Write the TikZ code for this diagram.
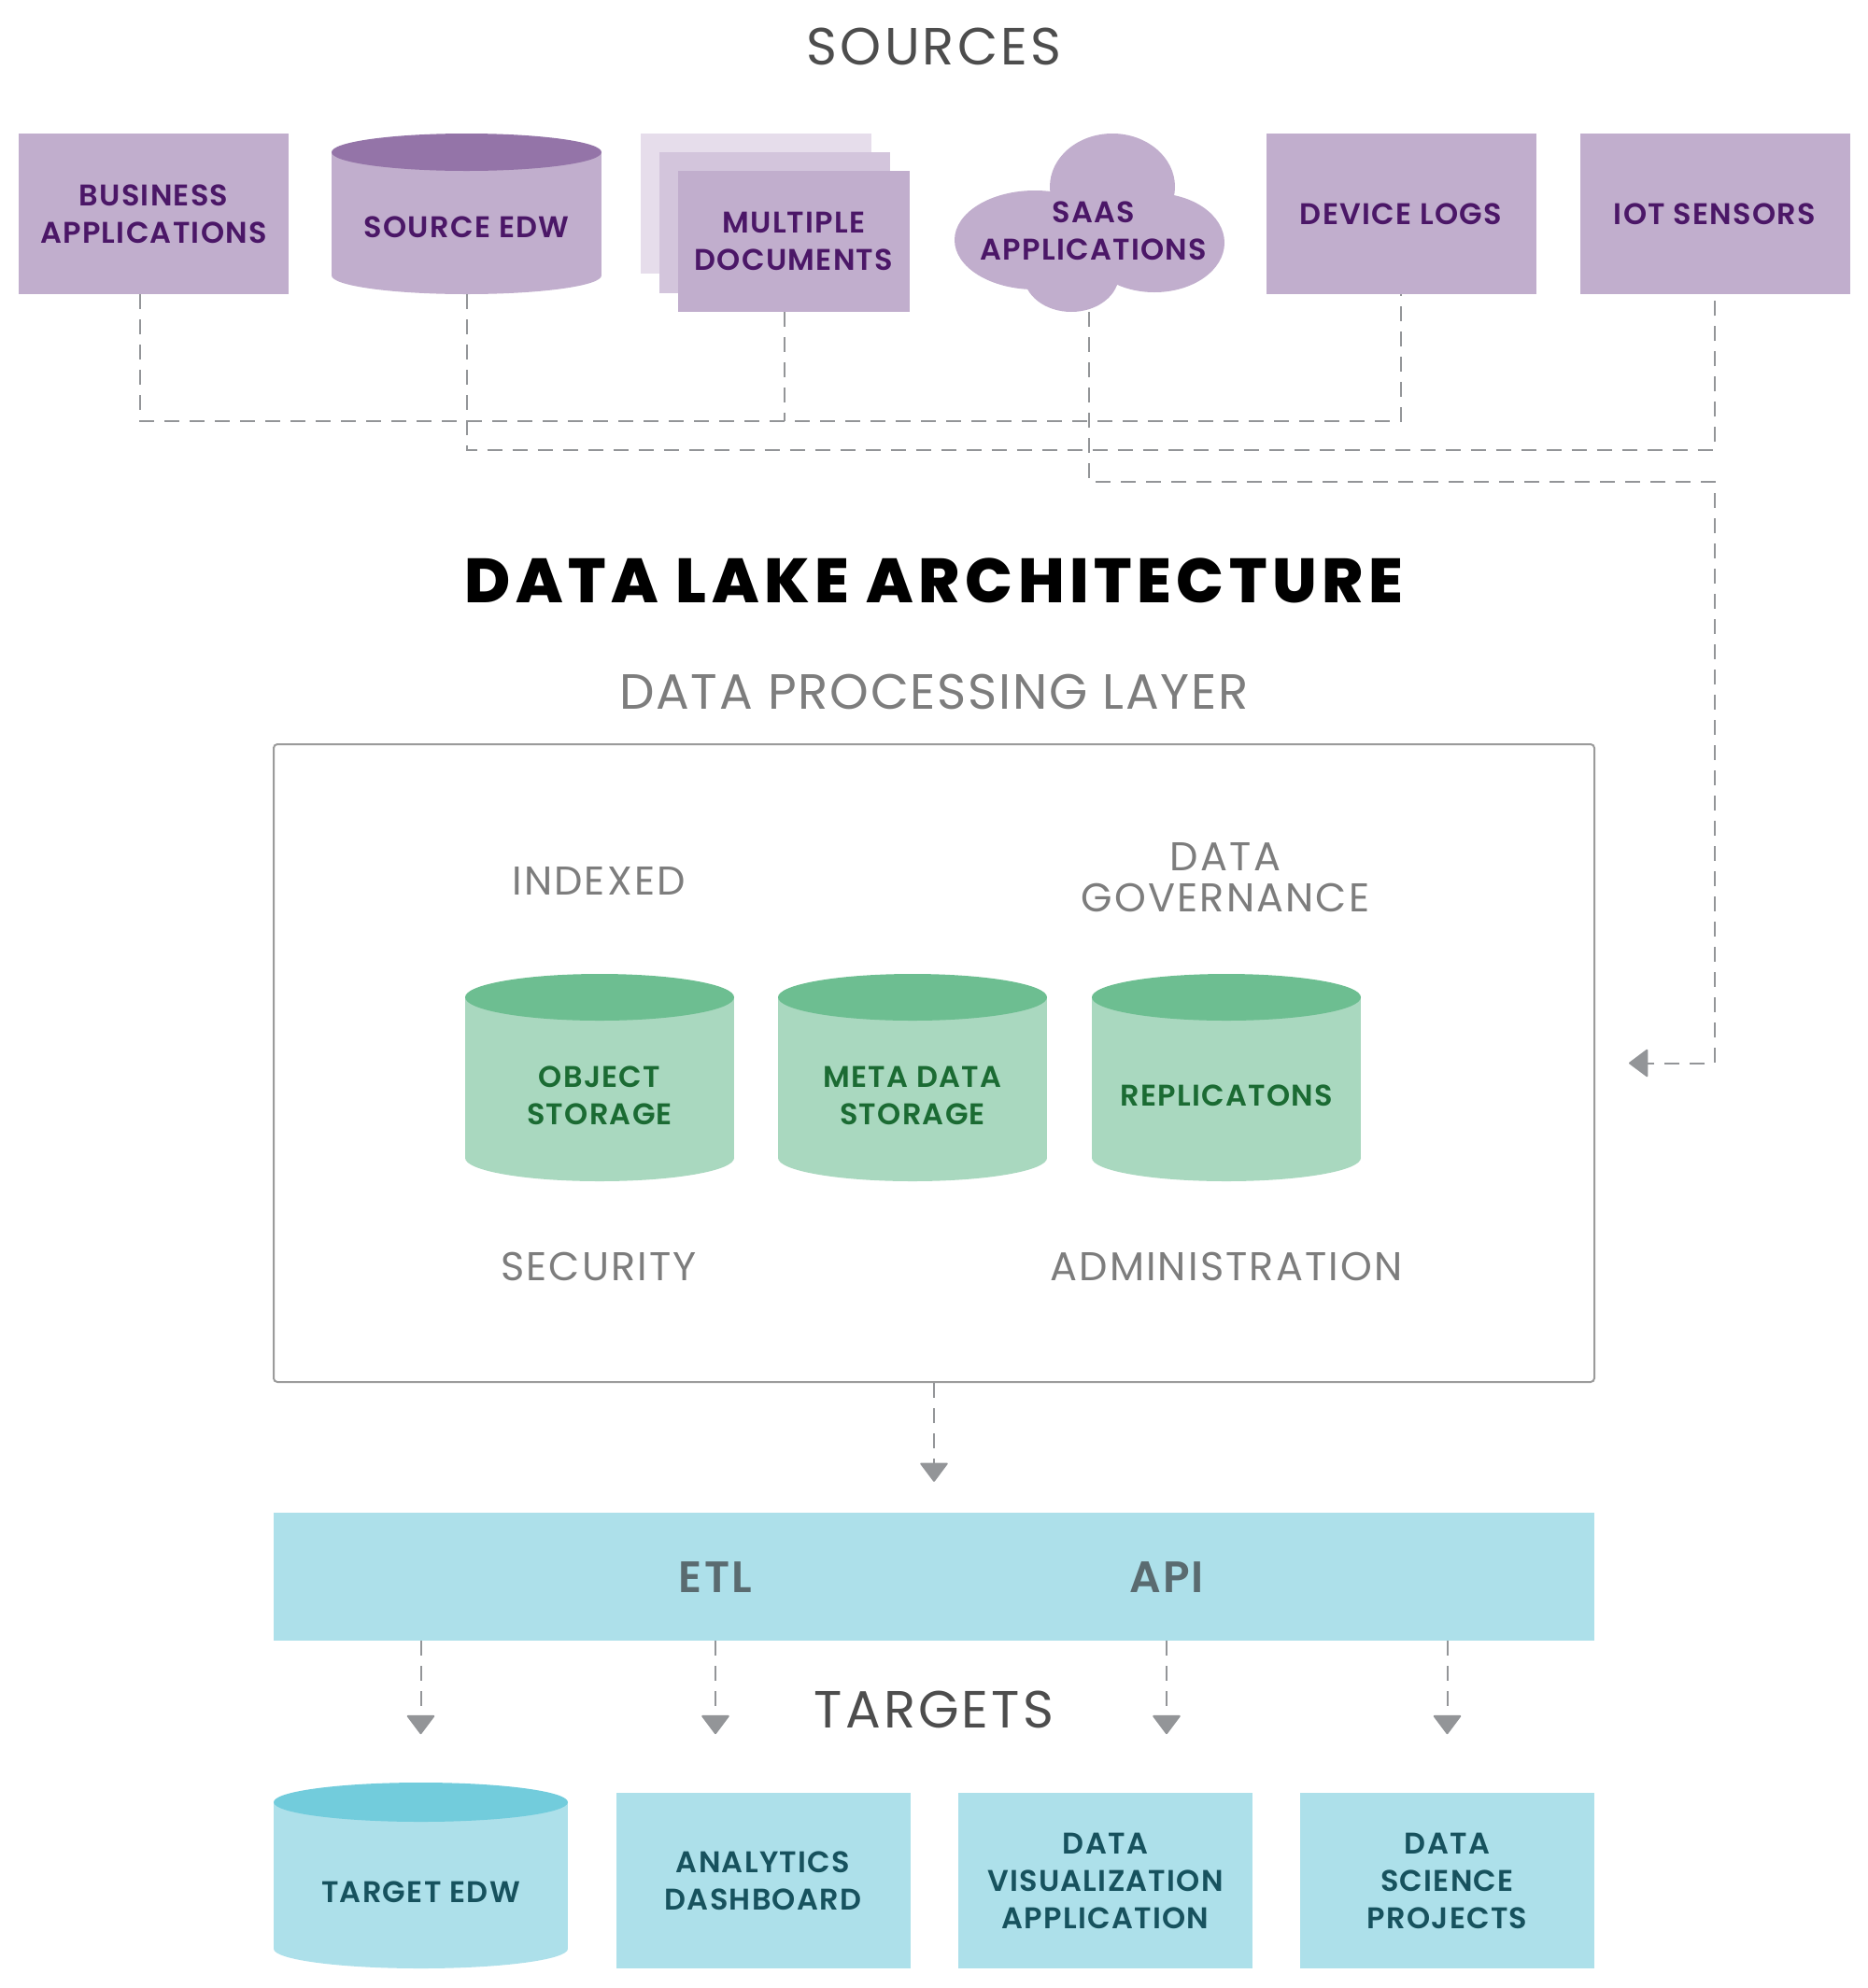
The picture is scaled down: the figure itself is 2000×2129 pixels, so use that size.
\documentclass[tikz,border=0pt]{standalone}
\usepackage{fontspec}
\setmainfont{Poppins}[BoldFont={Poppins SemiBold}]
\newfontfamily\titlefont{Poppins}[UprightFont={Poppins ExtraBold}]
\usetikzlibrary{arrows.meta}
\definecolor{pfill}{HTML}{C1AECD}
\definecolor{ptop}{HTML}{9474A8}
\definecolor{pback}{HTML}{E6DDEB}
\definecolor{pmid}{HTML}{D3C5DC}
\definecolor{ptext}{HTML}{4B1767}
\definecolor{gtop}{HTML}{6DBE91}
\definecolor{gfill}{HTML}{A9D8BF}
\definecolor{gtext}{HTML}{1B6B33}
\definecolor{bfill}{HTML}{ADE0EA}
\definecolor{btop}{HTML}{72CCDC}
\definecolor{btext}{HTML}{17525E}
\definecolor{lgray}{HTML}{939598}
\definecolor{boxgray}{HTML}{9B9B9B}
\definecolor{dgray}{HTML}{4D4D4D}
\definecolor{mgray}{HTML}{7D7D7D}
\definecolor{slate}{HTML}{5A6B70}
\newcommand\cylshape[7]{%
  \fill[#6] (#1,#3+#5) rectangle (#2,#4-#5);
  \fill[#6] ({(#1+#2)/2},#4-#5) ellipse [x radius={(#2-#1)/2}, y radius=#5];
  \fill[#7] ({(#1+#2)/2},#3+#5) ellipse [x radius={(#2-#1)/2}, y radius=#5];
}
\begin{document}
\begin{tikzpicture}[x=1pt,y=-1pt,
  conn/.style={draw=lgray, line width=2pt, dash pattern=on 16pt off 11pt},
  arr/.style={conn, -{Triangle[width=31pt,length=21pt,round]}},
  lbl/.style={inner sep=0pt, align=center, font=\fontsize{32}{40}\selectfont\bfseries\addfontfeatures{LetterSpace=4}},
  plbl/.style={lbl, text=ptext},
  glbl/.style={lbl, text=gtext},
  blbl/.style={lbl, text=btext},
  pbox/.style={plbl, fill=pfill, minimum width=289pt, minimum height=172pt},
  bbox/.style={blbl, fill=bfill, minimum width=315pt, minimum height=188pt},
  head/.style={inner sep=0pt, font=\fontsize{56}{60}\selectfont\addfontfeatures{LetterSpace=5.5}, text=dgray},
  sub/.style={inner sep=0pt, align=center, font=\fontsize{43}{44}\selectfont\addfontfeatures{LetterSpace=5}, text=mgray},
]
\useasboundingbox (0,0) rectangle (2000,2129);

% ---------- SOURCES ----------
\node[head] (srctitle) at (1000,50) {SOURCES};

\node[pbox] (ba) at (164.5,229) {BUSINESS\\APPLICATIONS};

\cylshape{355}{644}{143}{315}{20}{pfill}{ptop}
\node[plbl, minimum width=289pt, minimum height=144pt] (sedw) at (499.5,243) {SOURCE EDW};

\fill[pback] (686,143) rectangle (933,293);
\fill[pmid] (706,163) rectangle (953,314);
\node[plbl, fill=pfill, minimum width=248pt, minimum height=151pt] (md) at (850,258.5) {MULTIPLE\\DOCUMENTS};

\fill[pfill] (1191,200) ellipse [x radius=67, y radius=57];
\fill[pfill] (1108,257) ellipse [x radius=86, y radius=53];
\fill[pfill] (1236,260) ellipse [x radius=75, y radius=53];
\fill[pfill] (1147,294) ellipse [x radius=51, y radius=40];
\node[plbl, minimum width=290pt, minimum height=174pt] (saas) at (1166,247) {\hspace*{10pt}SAAS\\\hspace*{10pt}APPLICATIONS};

\node[pbox] (dl) at (1500,229) {DEVICE LOGS};
\node[pbox] (iot) at (1836,229) {IOT SENSORS};

% ---------- source connectors ----------
\coordinate (bus1) at (0,451);
\coordinate (bus2) at (0,482);
\coordinate (bus3) at (0,516);
\draw[conn] ([xshift=-14.5pt]ba.south) |- (dl.south |- bus1) -- (dl.south);
\draw[conn] ([xshift=-10pt]md.south) coordinate (mdb) -- (mdb |- bus1);
\draw[conn] (sedw.south) |- (iot.south |- bus2) -- (iot.south);

% ---------- title ----------
\node[inner sep=0pt, font=\fontsize{67}{70}\titlefont\addfontfeatures{LetterSpace=8.3}] (title) at (1000,622) {DATA LAKE ARCHITECTURE};
\node[inner sep=0pt, font=\fontsize{53}{56}\selectfont\addfontfeatures{LetterSpace=3.4}, text=mgray] (dpltitle) at (1000,741) {DATA PROCESSING LAYER};

% ---------- processing layer ----------
\node[draw=boxgray, line width=2pt, rounded corners=4pt, minimum width=1414pt, minimum height=683pt] (dpl) at (1000,1138.5) {};

\draw[arr] (saas.south) |- (iot.south |- bus3) |- ([xshift=36pt]dpl.east);

\node[sub] (idx) at (641,943) {INDEXED};
\node[sub] (gov) at (1312,940) {DATA\\GOVERNANCE};
\node[sub] (sec) at (641,1356) {SECURITY};
\node[sub] (adm) at (1313,1356) {ADMINISTRATION};

\cylshape{498}{786}{1043}{1265}{25}{gfill}{gtop}
\cylshape{833}{1121}{1043}{1265}{25}{gfill}{gtop}
\cylshape{1169}{1457}{1043}{1265}{25}{gfill}{gtop}
\node[glbl] (obj) at (642,1173) {OBJECT\\STORAGE};
\node[glbl] (meta) at (977,1173) {META DATA\\STORAGE};
\node[glbl] (rep) at (1313,1173) {REPLICATONS};

% ---------- ETL / API ----------
\node[fill=bfill, minimum width=1414pt, minimum height=137pt, inner sep=0pt] (bar) at (1000,1688.5) {};
\node[inner sep=0pt, font=\fontsize{47}{50}\selectfont\bfseries\addfontfeatures{LetterSpace=5}, text=slate] (etl) at (766,1689) {ETL};
\node[inner sep=0pt, font=\fontsize{47}{50}\selectfont\bfseries\addfontfeatures{LetterSpace=5}, text=slate] (api) at (1249,1689) {API};

\draw[arr] (dpl.south) -- ([yshift=33pt]bar.north);

% ---------- TARGETS ----------
\node[head] (tgttitle) at (1000,1831) {TARGETS};

\cylshape{293}{608}{1909}{2108}{21}{bfill}{btop}
\node[blbl, minimum width=315pt, minimum height=164pt] (tedw) at (450.5,2026) {TARGET EDW};
\node[bbox] (ad) at (817,2014) {ANALYTICS\\DASHBOARD};
\node[bbox] (dv) at (1183.5,2014) {DATA\\VISUALIZATION\\APPLICATION};
\node[bbox] (ds) at (1549.5,2014) {DATA\\SCIENCE\\PROJECTS};

\draw[arr] (bar.south -| tedw.north) -- +(0,100);
\draw[arr] (bar.south -| etl.south) -- +(0,100);
\draw[arr] (bar.south -| api.south) -- +(0,100);
\draw[arr] (bar.south -| ds.north) -- +(0,100);
\end{tikzpicture}
\end{document}
